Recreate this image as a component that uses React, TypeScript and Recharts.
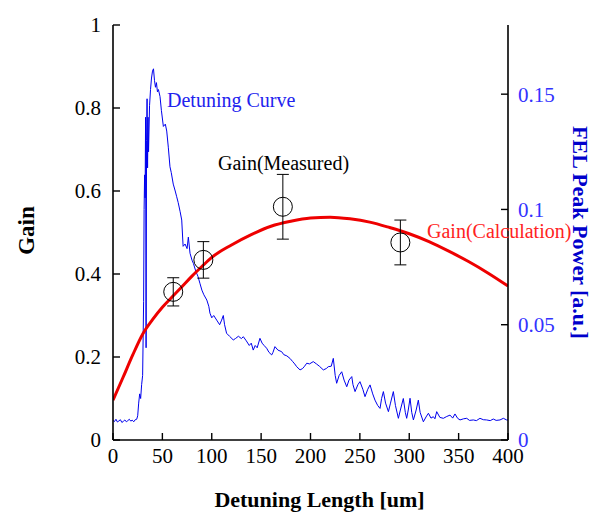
import { ComposedChart, Line, Scatter, ErrorBar, XAxis, YAxis } from 'recharts'

const FONT = 'Liberation Serif, Tinos, DejaVu Serif, serif'

// axis ticks
const xTicks = [0, 50, 100, 150, 200, 250, 300, 350, 400]
const gainTicks = [0, 0.2, 0.4, 0.6, 0.8, 1]
const powerTicks = [0, 0.05, 0.1, 0.15]

// Gain (calculation), red curve
const calcX = [0, 10, 20, 30, 40, 50, 60, 70, 80, 90, 100, 120, 140, 160, 180, 200, 220, 240, 260, 280, 300, 320, 340, 360, 380, 400]
const calcGain = [0.096, 0.15, 0.205, 0.255, 0.29, 0.32, 0.345, 0.37, 0.395, 0.418, 0.44, 0.47, 0.495, 0.515, 0.527, 0.535, 0.537, 0.533, 0.525, 0.512, 0.497, 0.478, 0.455, 0.43, 0.402, 0.371]

// Gain (measured), circles with error bars
const measX = [61, 91.5, 172, 291]
const measGain = [0.357, 0.434, 0.562, 0.476]
const measErr = [0.034, 0.044, 0.078, 0.054]

// Detuning curve, FEL peak power [a.u.]
const detX = [
  0, 1.5, 3, 4.5, 6, 7.5, 9, 10.5, 12, 13.5, 15, 16.5, 18, 19.5, 21, 22.5, 24, 25, 26, 27, 28, 29, 30,
  31, 31.5, 32, 32.5, 33, 33.5, 34, 34.5, 35, 35.5, 36, 37, 38, 39, 40, 41, 42, 43, 44, 45, 46, 47.6,
  49, 51, 53, 54.4, 56, 57.7, 59, 61, 63, 64.5, 66, 68, 69.6, 71, 73, 75, 76.3, 78, 80, 81.4, 84, 86,
  88, 90, 92, 95, 97, 98.2, 100, 102, 105, 108, 110, 111.7, 113, 115, 118, 121.8, 124, 127, 130, 132,
  135, 138, 140, 142, 144, 146, 148.8, 151, 153, 155.6, 158, 160.7, 162, 164, 167, 170.8, 173, 176,
  179.2, 182, 184, 186, 189.4, 192, 194, 196.2, 199, 202.8, 206, 209, 213, 216, 218, 221, 223.1, 225,
  226.5, 229, 231.6, 234, 236.7, 239, 241.8, 243, 245.1, 248, 250.1, 253, 255.2, 258, 260.3, 263,
  265.3, 268, 270.4, 272, 273.8, 276, 278.9, 281, 283.9, 286, 289, 291, 294, 296, 297.4, 299, 300.8,
  302.5, 304.2, 307, 309.2, 311, 314.3, 317, 319.4, 322, 324.4, 326, 327.8, 331, 334.5, 338, 341.3,
  344, 346.3, 349, 351.4, 355, 358.2, 361, 364.9, 368, 371.6, 375, 378.4, 382, 385.1, 388, 391.9,
  395.3, 398.6, 400,
]
const detPower = [
  0.0085, 0.008, 0.009, 0.0078, 0.0083, 0.0088, 0.0076, 0.0081, 0.0087, 0.0079, 0.0084, 0.009, 0.0082, 0.0086, 0.0079, 0.0088, 0.009, 0.0105, 0.016, 0.02, 0.018, 0.024, 0.028,
  0.06, 0.1, 0.115, 0.105, 0.14, 0.04, 0.13, 0.148, 0.118, 0.14, 0.125, 0.145, 0.152, 0.157, 0.16, 0.161, 0.156, 0.153, 0.155, 0.151, 0.152, 0.149,
  0.143, 0.136, 0.137, 0.134, 0.127, 0.1185, 0.116, 0.111, 0.108, 0.1055, 0.103, 0.099, 0.0954, 0.084, 0.085, 0.083, 0.088, 0.081, 0.078, 0.0766, 0.073, 0.071,
  0.068, 0.065, 0.063, 0.0607, 0.058, 0.055, 0.053, 0.054, 0.052, 0.05, 0.052, 0.054, 0.05, 0.0463, 0.045, 0.0434, 0.044, 0.045, 0.044, 0.0448,
  0.043, 0.041, 0.042, 0.039, 0.041, 0.04, 0.0441, 0.042, 0.041, 0.0398, 0.038, 0.0369, 0.038, 0.0405, 0.039, 0.0383, 0.037, 0.0365,
  0.0354, 0.034, 0.033, 0.0318, 0.0304, 0.031, 0.032, 0.0333, 0.033, 0.034, 0.033, 0.032, 0.0304, 0.031, 0.0318, 0.032, 0.0354, 0.028,
  0.0246, 0.028, 0.0296, 0.026, 0.0231, 0.026, 0.0275, 0.024, 0.021, 0.024, 0.0253, 0.022, 0.0188, 0.022, 0.0239, 0.02,
  0.0173, 0.015, 0.0137, 0.018, 0.021, 0.016, 0.0123, 0.016, 0.021, 0.015, 0.0094, 0.013, 0.018, 0.012, 0.0094, 0.013, 0.0181,
  0.012, 0.0087, 0.013, 0.0173, 0.012, 0.0079, 0.01, 0.0116, 0.0095, 0.0101, 0.0092, 0.0123, 0.0098, 0.0094, 0.0102, 0.0108,
  0.0095, 0.0113, 0.0094, 0.0087, 0.0092, 0.0094, 0.0085, 0.0087, 0.0084, 0.0094, 0.0088, 0.0087, 0.0084, 0.0091, 0.0085, 0.0087,
  0.0094, 0.0087, 0.0087,
]

const calcData = calcX.map((x, i) => ({ x, gain: calcGain[i] }))
const measData = measX.map((x, i) => ({ x, gain: measGain[i], err: measErr[i] }))
const detData = detX.map((x, i) => ({ x, power: detPower[i] }))

const W = 592
const H = 513

const OpenCircle = (props: any) => {
  const { cx, cy } = props
  return <circle cx={cx} cy={cy} r={9.5} fill="none" stroke="#000" strokeWidth={1} />
}

const leftTitle = ({ viewBox }: any) => {
  const cx = viewBox.x + 26
  const cy = viewBox.y + viewBox.height / 2 - 2
  return (
    <text x={cx} y={cy} transform={`rotate(-90 ${cx} ${cy})`} textAnchor="middle" dominantBaseline="central"
      fontFamily={FONT} fontSize={23} fontWeight="bold" fill="#000">
      Gain
    </text>
  )
}

const rightTitle = ({ viewBox }: any) => {
  const cx = viewBox.x + 72
  const cy = viewBox.y + viewBox.height / 2
  return (
    <text x={cx} y={cy} transform={`rotate(90 ${cx} ${cy})`} textAnchor="middle" dominantBaseline="central"
      fontFamily={FONT} fontSize={22} fontWeight="bold" fill="#0000cc">
      FEL Peak Power [a.u.]
    </text>
  )
}

const bottomTitle = ({ viewBox }: any) => {
  const cx = viewBox.x + viewBox.width / 2 + 9
  const cy = viewBox.y + 59
  return (
    <text x={cx} y={cy} textAnchor="middle" dominantBaseline="central"
      fontFamily={FONT} fontSize={22} fontWeight="bold" fill="#000">
      Detuning Length [um]
    </text>
  )
}

export default function App() {
  const axisLine = { stroke: '#000', strokeWidth: 1.6 }
  const tickLine = { stroke: '#000', strokeWidth: 1.4 }
  return (
    <div style={{ position: 'relative', width: W, height: H, fontFamily: FONT }}>
      <style>{'html, body { margin: 0; padding: 0; overflow: hidden; }'}</style>
      <ComposedChart width={W} height={H} margin={{ top: 25, right: 0, bottom: 0, left: 0 }}>
        <XAxis
          xAxisId="bottom"
          type="number"
          dataKey="x"
          domain={[0, 400]}
          ticks={xTicks}
          allowDataOverflow
          height={73}
          axisLine={axisLine}
          tickLine={tickLine}
          tickSize={-7}
          tickMargin={15}
          tick={{ fill: '#000', fontSize: 21, fontFamily: FONT }}
          label={{ content: bottomTitle }}
        />
        <XAxis
          xAxisId="top"
          orientation="top"
          type="number"
          dataKey="x"
          domain={[0, 400]}
          ticks={xTicks}
          allowDataOverflow
          height={0}
          axisLine={axisLine}
          tickLine={tickLine}
          tickSize={-7}
          tickFormatter={() => ''}
        />
        <YAxis
          yAxisId="left"
          type="number"
          domain={[0, 1]}
          ticks={gainTicks}
          allowDataOverflow
          width={113}
          axisLine={axisLine}
          tickLine={tickLine}
          tickSize={-7}
          tickMargin={19}
          tick={{ fill: '#000', fontSize: 21, fontFamily: FONT }}
          label={{ content: leftTitle }}
        />
        <YAxis
          yAxisId="right"
          orientation="right"
          type="number"
          domain={[0, 0.18]}
          ticks={powerTicks}
          allowDataOverflow
          width={84}
          axisLine={axisLine}
          tickLine={tickLine}
          tickSize={-7}
          tickMargin={17}
          tick={{ fill: '#3333ff', fontSize: 21, fontFamily: FONT }}
          label={{ content: rightTitle }}
        />
        <Line
          xAxisId="bottom"
          yAxisId="right"
          data={detData}
          dataKey="power"
          type="linear"
          stroke="#0000ee"
          strokeWidth={1}
          dot={false}
          isAnimationActive={false}
        />
        <Line
          xAxisId="bottom"
          yAxisId="left"
          data={calcData}
          dataKey="gain"
          type="monotone"
          stroke="#ee0000"
          strokeWidth={3}
          dot={false}
          isAnimationActive={false}
        />
        <Scatter
          xAxisId="bottom"
          yAxisId="left"
          data={measData}
          dataKey="gain"
          shape={OpenCircle}
          isAnimationActive={false}
        >
          <ErrorBar dataKey="err" direction="y" width={6} stroke="#000" strokeWidth={1} />
        </Scatter>
      </ComposedChart>
      <svg width={W} height={H} style={{ position: 'absolute', left: 0, top: 0, pointerEvents: 'none' }}>
        <text x={167} y={107} fontFamily={FONT} fontSize={20} fill="#2222ee">Detuning Curve</text>
        <text x={218} y={170} fontFamily={FONT} fontSize={20} fill="#000">Gain(Measured)</text>
        <text x={427} y={238} fontFamily={FONT} fontSize={20} fill="#ff2222">Gain(Calculation)</text>
      </svg>
    </div>
  )
}
